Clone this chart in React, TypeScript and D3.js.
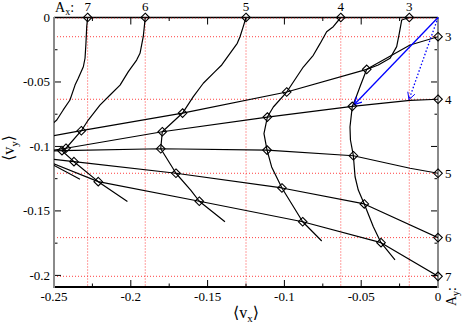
import React from 'react';
import * as d3 from 'd3';

type P = [number, number];

const W = 463;
const H = 325;
const M = { left: 54, right: 438, top: 17.5, bottom: 287 };

const X_DOMAIN: P = [-0.25, 0];
const Y_DOMAIN: P = [-0.209, 0];
const X_TICKS = [-0.25, -0.2, -0.15, -0.1, -0.05, 0];
const X_TICK_LABELS = ['-0.25', '-0.2', '-0.15', '-0.1', '-0.05', '0'];
const Y_TICKS = [0, -0.05, -0.1, -0.15, -0.2];
const Y_TICK_LABELS = ['0', '-0.05', '-0.1', '-0.15', '-0.2'];

const AX_LABELS = ['7', '6', '5', '4', '3'];
const AX_VALUES = [-0.2281, -0.1906, -0.125, -0.0633, -0.0187];
const AY_LABELS = ['3', '4', '5', '6', '7'];
const AY_VALUES = [-0.0149, -0.0634, -0.1208, -0.1707, -0.2007];

// intersections: rows Ax = 3,4,5,6,7 ; columns Ay = 3,4,5,6,7
const INTER_X = [
  [-0.0464, -0.0558, -0.0551, -0.048, -0.0371],
  [-0.0985, -0.1111, -0.1113, -0.1016, -0.0881],
  [-0.1663, -0.1795, -0.1805, -0.1706, -0.1554],
  [-0.2322, -0.2422, -0.2448, -0.237, -0.2212],
  [-0.2552, -0.2578, -0.2598, -0.263, -0.2565],
];
const INTER_Y = [
  [-0.0402, -0.0689, -0.1072, -0.1446, -0.1746],
  [-0.0578, -0.0772, -0.1028, -0.1322, -0.1584],
  [-0.0741, -0.0886, -0.1018, -0.1208, -0.1425],
  [-0.0878, -0.1014, -0.1033, -0.1118, -0.1273],
  [-0.0927, -0.1043, -0.1039, -0.1083, -0.1105],
];

const AX3_CURVE: P[] = [
  [-0.0187, 0], [-0.0236, -0.0019], [-0.0252, -0.0123], [-0.0269, -0.0226], [-0.0312, -0.0316],
  [-0.0389, -0.0368], [-0.0464, -0.0402], [-0.0508, -0.0537], [-0.054, -0.064], [-0.0558, -0.0689],
  [-0.0573, -0.0849], [-0.057, -0.095], [-0.0551, -0.1072], [-0.054, -0.1235], [-0.0519, -0.1338],
  [-0.048, -0.1446], [-0.0421, -0.1622], [-0.0371, -0.1746], [-0.028, -0.188],
];
const AX4_CURVE: P[] = [
  [-0.0633, 0], [-0.0682, -0.0071], [-0.0725, -0.011], [-0.0768, -0.0203], [-0.0812, -0.0293],
  [-0.0877, -0.0384], [-0.0985, -0.0578], [-0.1072, -0.0694], [-0.1111, -0.0772], [-0.1133, -0.0901],
  [-0.1113, -0.1028], [-0.1083, -0.1159], [-0.1016, -0.1322], [-0.0881, -0.1584], [-0.0757, -0.1733],
];
const AX5_CURVE: P[] = [
  [-0.125, 0], [-0.1268, -0.0071], [-0.1289, -0.0149], [-0.1307, -0.02], [-0.1354, -0.0278],
  [-0.1408, -0.0368], [-0.1452, -0.042], [-0.1528, -0.051], [-0.1593, -0.0614], [-0.1663, -0.0741],
  [-0.1795, -0.0886], [-0.1805, -0.1018], [-0.1706, -0.1208], [-0.161, -0.1338], [-0.1554, -0.1425],
  [-0.1387, -0.1584],
];
const AX6_CURVE: P[] = [
  [-0.1906, 0], [-0.1912, -0.0071], [-0.1919, -0.0149], [-0.194, -0.0278], [-0.1962, -0.033],
  [-0.2016, -0.042], [-0.207, -0.0524], [-0.2135, -0.0601], [-0.2201, -0.0679], [-0.2277, -0.0795],
  [-0.2322, -0.0878], [-0.2422, -0.1014], [-0.2448, -0.1033], [-0.237, -0.1118], [-0.2212, -0.1273],
  [-0.2022, -0.1427],
];
const AX7_CURVE: P[] = [
  [-0.2281, 0], [-0.2287, -0.0071], [-0.2292, -0.02], [-0.2298, -0.0316], [-0.2309, -0.0382],
  [-0.2342, -0.0472], [-0.2363, -0.0524], [-0.2396, -0.064], [-0.244, -0.0717], [-0.2482, -0.0795],
  [-0.2526, -0.0841], [-0.2552, -0.0927], [-0.2578, -0.1043], [-0.2598, -0.1039], [-0.263, -0.1083],
  [-0.2565, -0.1105], [-0.2331, -0.1255],
];

const AY3_CURVE: P[] = [
  [0, -0.0149], [-0.0182, -0.0213], [-0.0464, -0.0402], [-0.0985, -0.0578], [-0.1663, -0.0741],
  [-0.2322, -0.0878], [-0.2552, -0.0927],
];
const AY4_CURVE: P[] = [
  [0, -0.0634], [-0.0182, -0.0642], [-0.0558, -0.0689], [-0.1111, -0.0772], [-0.1795, -0.0886],
  [-0.2422, -0.1014], [-0.2578, -0.1043],
];
const AY5_CURVE: P[] = [
  [0, -0.1208], [-0.0182, -0.1169], [-0.0551, -0.1072], [-0.1113, -0.1028], [-0.1805, -0.1018],
  [-0.2448, -0.1033], [-0.2598, -0.1039],
];
const AY6_CURVE: P[] = [
  [0, -0.1707], [-0.048, -0.1446], [-0.1016, -0.1322], [-0.1706, -0.1208], [-0.237, -0.1118],
  [-0.263, -0.1083],
];
const AY7_CURVE: P[] = [
  [0, -0.2007], [-0.0371, -0.1746], [-0.0881, -0.1584], [-0.1554, -0.1425], [-0.2212, -0.1273],
  [-0.2565, -0.1105],
];

const ARROW_SOLID: P[] = [[0, 0], [-0.0545, -0.0675]];
const ARROW_DOTTED: P[] = [[0, 0], [-0.0189, -0.0637]];

const SERIF = '"Liberation Serif", "DejaVu Serif", serif';
const T = { fontFamily: SERIF };

export default function App() {
  const xs = d3.scaleLinear().domain(X_DOMAIN).range([M.left, M.right]);
  const ys = d3.scaleLinear().domain(Y_DOMAIN).range([M.bottom, M.top]);
  const line = d3.line<P>().x((d) => xs(d[0])).y((d) => ys(d[1]));

  const curves = [AX3_CURVE, AX4_CURVE, AX5_CURVE, AX6_CURVE, AX7_CURVE, AY3_CURVE, AY4_CURVE, AY5_CURVE, AY6_CURVE, AY7_CURVE];

  const xMinor = d3.range(0, 11).map((i) => -0.25 + i * 0.025).filter((_, i) => i % 2 === 1);
  const yMinor = d3.range(0, 8).map((i) => -0.025 - i * 0.05).filter((v) => v > -0.209);

  const diamond = (cx: number, cy: number, r = 4.3) =>
    `M${cx},${cy - r}L${cx + r},${cy}L${cx},${cy + r}L${cx - r},${cy}Z`;

  const arrowHead = (pts: P[]) => {
    const x0 = xs(pts[0][0]), y0 = ys(pts[0][1]);
    const x1 = xs(pts[1][0]), y1 = ys(pts[1][1]);
    const a = Math.atan2(y1 - y0, x1 - x0);
    const L = 8, th = (28 * Math.PI) / 180;
    const p1 = [x1 - L * Math.cos(a - th), y1 - L * Math.sin(a - th)];
    const p2 = [x1 - L * Math.cos(a + th), y1 - L * Math.sin(a + th)];
    return `M${p1[0]},${p1[1]}L${x1},${y1}L${p2[0]},${p2[1]}`;
  };

  const gray = '#8a8a8a';
  const major = 7, minor = 3.5;

  return (
    <svg width={W} height={H} style={{ position: 'absolute', left: 0, top: 0, background: '#fff' }}>
      <defs>
        <clipPath id="plot">
          <rect x={M.left} y={M.top} width={M.right - M.left} height={M.bottom - M.top} />
        </clipPath>
      </defs>
      <rect x={0} y={0} width={W} height={H} fill="#fff" />

      <line x1={M.left} x2={M.right} y1={M.top} y2={M.top} stroke="#000" strokeWidth={1.5} />
      <line x1={M.left} x2={M.right} y1={M.bottom} y2={M.bottom} stroke="#000" strokeWidth={2} />

      <g clipPath="url(#plot)" stroke="#ff2020" strokeWidth={1} strokeDasharray="1,2" opacity={0.85}>
        {AX_VALUES.map((v, i) => (
          <line key={'gx' + i} x1={xs(v)} x2={xs(v)} y1={M.top} y2={M.bottom} />
        ))}
        {AY_VALUES.map((v, i) => (
          <line key={'gy' + i} x1={M.left} x2={M.right} y1={ys(v)} y2={ys(v)} />
        ))}
        <line x1={M.left} x2={M.right} y1={ys(0) + 0.5} y2={ys(0) + 0.5} />
      </g>

      <g stroke="#000" strokeWidth={1}>
        {X_TICKS.map((v, i) => (
          <g key={'xt' + i}>
            <line x1={xs(v)} x2={xs(v)} y1={M.bottom} y2={M.bottom - major} />
            <line x1={xs(v)} x2={xs(v)} y1={M.top} y2={M.top + major} />
          </g>
        ))}
        {xMinor.map((v, i) => (
          <g key={'xm' + i}>
            <line x1={xs(v)} x2={xs(v)} y1={M.bottom} y2={M.bottom - minor} />
            <line x1={xs(v)} x2={xs(v)} y1={M.top} y2={M.top + minor} />
          </g>
        ))}
        {Y_TICKS.map((v, i) => (
          <g key={'yt' + i}>
            <line x1={M.left} x2={M.left + major} y1={ys(v)} y2={ys(v)} />
            <line x1={M.right} x2={M.right - major} y1={ys(v)} y2={ys(v)} />
          </g>
        ))}
        {yMinor.map((v, i) => (
          <g key={'ym' + i}>
            <line x1={M.left} x2={M.left + minor} y1={ys(v)} y2={ys(v)} />
            <line x1={M.right} x2={M.right - minor} y1={ys(v)} y2={ys(v)} />
          </g>
        ))}
      </g>

      <line x1={M.left} x2={M.left} y1={M.top - 0.5} y2={M.bottom + 1} stroke={gray} strokeWidth={2} />
      <line x1={M.right} x2={M.right} y1={M.top - 0.5} y2={M.bottom + 1} stroke={gray} strokeWidth={2} />

      <g clipPath="url(#plot)" fill="none" stroke="#000" strokeWidth={1.2} strokeLinejoin="round">
        {curves.map((c, i) => (
          <path key={'c' + i} d={line(c) || ''} />
        ))}
      </g>

      <g fill="none" stroke="#0000ff" strokeWidth={1.3}>
        <path d={line(ARROW_SOLID) || ''} />
        <path d={arrowHead(ARROW_SOLID)} />
        <path d={line(ARROW_DOTTED) || ''} strokeDasharray="1.5,2" />
        <path d={arrowHead(ARROW_DOTTED)} strokeWidth={1} />
      </g>

      <g clipPath="url(#plot)" fill="none" stroke="#000" strokeWidth={1.1}>
        {INTER_X.map((row, i) =>
          row.map((v, j) => <path key={`d${i}-${j}`} d={diamond(xs(v), ys(INTER_Y[i][j]))} />)
        )}
      </g>
      <g fill="none" stroke="#000" strokeWidth={1.1}>
        {AX_VALUES.map((v, i) => (
          <path key={'ma' + i} d={diamond(xs(v), ys(0))} />
        ))}
        {AY_VALUES.map((v, i) => (
          <path key={'mb' + i} d={diamond(xs(0), ys(v))} />
        ))}
      </g>

      <g style={T} fontSize={13} fill="#000">
        {X_TICKS.map((v, i) => (
          <text key={'xl' + i} style={T} x={xs(v)} y={301} textAnchor="middle">{X_TICK_LABELS[i]}</text>
        ))}
        {Y_TICKS.map((v, i) => (
          <text key={'yl' + i} style={T} x={50} y={ys(v) + 4.5} textAnchor="end">{Y_TICK_LABELS[i]}</text>
        ))}
        {AX_VALUES.map((v, i) => (
          <text key={'axl' + i} style={T} x={xs(v)} y={10.5} textAnchor="middle">{AX_LABELS[i]}</text>
        ))}
        {AY_VALUES.map((v, i) => (
          <text key={'ayl' + i} style={T} x={445} y={ys(v) + 4.5} textAnchor="start">{AY_LABELS[i]}</text>
        ))}
      </g>

      <text x={55} y={11.5} style={T} fontSize={14}>
        A<tspan dy={3} fontSize={10}>x</tspan><tspan dy={-3}>:</tspan>
      </text>
      <text transform="translate(456,306) rotate(-90)" style={T} fontSize={14}>
        A<tspan dy={3} fontSize={10}>y</tspan><tspan dy={-3}>:</tspan>
      </text>

      <text x={246} y={318} textAnchor="middle" style={T} fontSize={16}>
        ⟨v<tspan dy={4} fontSize={11}>x</tspan><tspan dy={-4}>⟩</tspan>
      </text>
      <text transform="translate(14,148) rotate(-90)" textAnchor="middle" style={T} fontSize={16}>
        ⟨v<tspan dy={4} fontSize={11}>y</tspan><tspan dy={-4}>⟩</tspan>
      </text>
    </svg>
  );
}
